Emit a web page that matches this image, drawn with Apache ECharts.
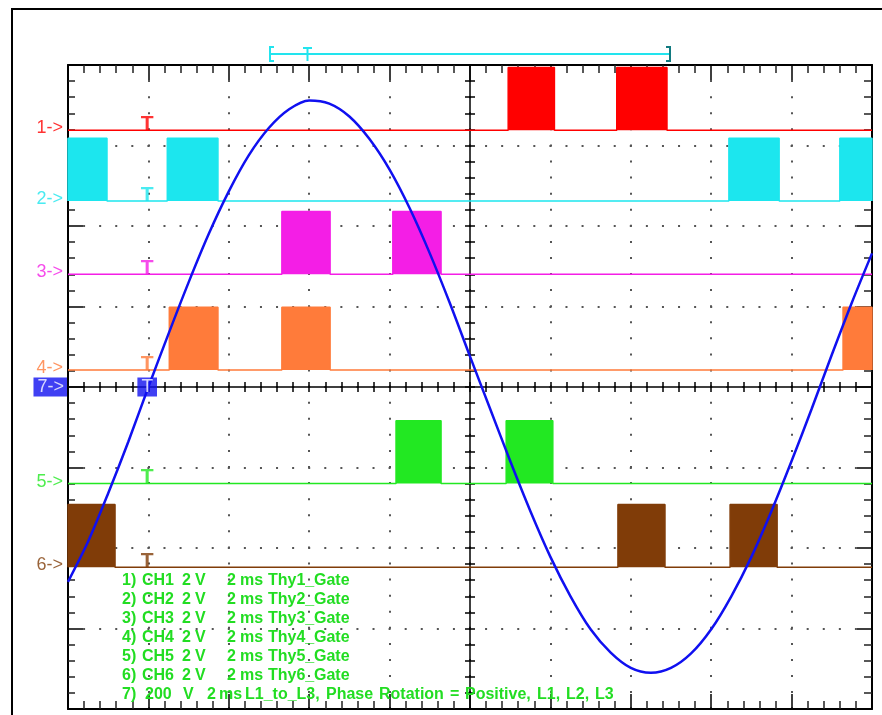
<!DOCTYPE html>
<html><head><meta charset="utf-8">
<script src="https://cdn.jsdelivr.net/npm/echarts@6/dist/echarts.min.js"></script>
<style>html,body{margin:0;padding:0;background:#fff}#c{width:882px;height:715px}</style>
</head><body><div id="c"></div><script>
// ---- data (time in ms, amplitude in screen divisions) ----
const timeMs = [0,0.5,1,1.5,2,2.5,3,3.5,4,4.5,5,5.5,6,6.5,7,7.5,8,8.5,9,9.5,10,10.5,11,11.5,12,12.5,13,13.5,14,14.5,15,15.5,16,16.5,17,17.5,18,18.5,19,19.5,20];
const ch7Div = [-2.42,-1.92,-1.32,-0.68,0.00,0.66,1.30,1.90,2.43,2.88,3.22,3.45,3.56,3.52,3.36,3.08,2.70,2.22,1.66,1.04,0.38,-0.27,-0.92,-1.54,-2.11,-2.60,-3.01,-3.30,-3.49,-3.55,-3.49,-3.31,-3.01,-2.60,-2.11,-1.54,-0.92,-0.27,0.40,1.05,1.66];
const ch1Pulses = [[10.95,12.10],[13.65,14.90]];
const ch2Pulses = [[0,0.97],[2.47,3.73],[16.44,17.69],[19.20,20]];
const ch3Pulses = [[5.32,6.52],[8.08,9.28]];
const ch4Pulses = [[2.52,3.73],[5.32,6.52],[19.28,20]];
const ch5Pulses = [[8.16,9.28],[10.90,12.06]];
const ch6Pulses = [[0,1.17],[13.68,14.85],[16.47,17.64]];
const channelNames = ['1->','2->','3->','4->','5->','6->'];
const channelBase = [3.19,2.31,1.40,0.21,-1.20,-2.24];
const pulseHeight = 0.78;
const triggerMs = 2;
const ch7Name = '7->';
const legendRows = [
  ['1)','CH1','2','V','2','ms','Thy1_','Gate'],
  ['2)','CH2','2','V','2','ms','Thy2_','Gate'],
  ['3)','CH3','2','V','2','ms','Thy3_','Gate'],
  ['4)','CH4','2','V','2','ms','Thy4_','Gate'],
  ['5)','CH5','2','V','2','ms','Thy5_','Gate'],
  ['6)','CH6','2','V','2','ms','Thy6_','Gate']
];
const legendRow7 = ['7)','200','V','2','ms','L1_to_L3,','Phase','Rotation','=','Positive,','L1,','L2,','L3'];

// ---- styling ----
const colors = ['#ff0000','#1ce6ee','#f41ee6','#ff7b3a','#22e822','#803c08'];
const blue = '#1010f0';
const legendGreen = '#22dd22';
const pulses = [ch1Pulses,ch2Pulses,ch3Pulses,ch4Pulses,ch5Pulses,ch6Pulses];
const G = {left:68, top:65, width:804, height:644};
const font = 'Liberation Sans, Arial, sans-serif';

function pulseData(list, base){
  const d = [[0, base]];
  list.forEach(([s,e]) => { d.push([s,base],[s,base+pulseHeight],[e,base+pulseHeight],[e,base]); });
  d.push([20, base]);
  return d;
}

const series = [];
pulses.forEach((p,i) => {
  series.push({
    type:'line', xAxisIndex:0, yAxisIndex:0, data: pulseData(p, channelBase[i]),
    showSymbol:false, symbol:'none', animation:false,
    lineStyle:{color:colors[i], width:1.5},
    areaStyle:{color:colors[i], opacity:1, origin:channelBase[i]}, z:3
  });
});
series.push({
  type:'line', xAxisIndex:0, yAxisIndex:0, data: timeMs.map((t,i)=>[t, ch7Div[i]]),
  showSymbol:false, symbol:'none', smooth:0.3, animation:false,
  lineStyle:{color:blue, width:2.5}, z:5
});
// channel labels "n->"
series.push({
  type:'scatter', xAxisIndex:0, yAxisIndex:0, symbolSize:0, animation:false, silent:true, z:6,
  data: channelNames.map((n,i)=>({value:[0, channelBase[i]], name:n,
    label:{show:true, position:'left', distance:5, offset:[0,-2], formatter:n, color:colors[i], fontSize:18, fontFamily:font}})).concat([
    {value:[0,0], name:ch7Name, label:{show:true, position:'left', distance:1, formatter:ch7Name, color:'#fff', fontSize:18, fontFamily:font,
      backgroundColor:blue, padding:[1,3,1,4], lineHeight:17}}])
});
// trigger "T" markers
series.push({
  type:'scatter', xAxisIndex:0, yAxisIndex:0, symbolSize:0, animation:false, silent:true, z:6,
  data: channelBase.map((b,i)=>({value:[triggerMs-0.03, b],
    label:{show:true, position:'inside', offset:[0,-6], formatter:'T', color:colors[i], fontSize:21, fontWeight:'bold', fontFamily:font}})).concat([
    {value:[triggerMs-0.03,0], label:{show:true, position:'inside', formatter:'T', color:'#fff', fontSize:19, fontFamily:font,
      backgroundColor:blue, padding:[1,4,1,4], lineHeight:17}}])
});

const dotLine = {show:true, lineStyle:{color:'#555', width:2, type:[2,14.08], dashOffset:1}};
const borderLine = {show:true, onZero:false, lineStyle:{color:'#000', width:2}};
const tickMain = {show:true, inside:true, length:15, lineStyle:{color:'#000', width:1.5}};
const tickMinor = {show:true, splitNumber:5, length:8, lineStyle:{color:'#222', width:1.5}};
const noLabel = {show:false};
const centerTick = {show:true, inside:false, length:5, lineStyle:{color:'#000', width:1.5}};

const option = {
  backgroundColor:'#fff',
  animation:false,
  grid:[
    {left:G.left, top:G.top, width:G.width, height:G.height, show:false},
    {left:G.left, top:G.top+G.height/2, width:G.width, height:0, show:false},
    {left:G.left+G.width/2, top:G.top, width:0, height:G.height, show:false}
  ],
  xAxis:[
    {gridIndex:0, type:'value', min:0, max:20, interval:2, position:'bottom', axisLine:borderLine, axisTick:tickMain, minorTick:tickMinor, axisLabel:noLabel, splitLine:dotLine},
    {gridIndex:0, type:'value', min:0, max:20, interval:2, position:'top', axisLine:borderLine, axisTick:tickMain, minorTick:tickMinor, axisLabel:noLabel, splitLine:{show:false}},
    {gridIndex:1, type:'value', min:0, max:20, interval:0.4, position:'bottom', axisLine:{show:true, onZero:false, lineStyle:{color:'#000', width:1.5}}, axisTick:centerTick, axisLabel:noLabel, splitLine:{show:false}},
    {gridIndex:1, type:'value', min:0, max:20, interval:0.4, position:'top', axisLine:{show:false}, axisTick:centerTick, axisLabel:noLabel, splitLine:{show:false}},
    {gridIndex:2, type:'value', min:0, max:1, show:false}
  ],
  yAxis:[
    {gridIndex:0, type:'value', min:-4, max:4, interval:1, position:'left', axisLine:borderLine, axisTick:tickMain, minorTick:{show:true, splitNumber:5, length:7, lineStyle:{color:'#222', width:1.5}}, axisLabel:noLabel, splitLine:dotLine},
    {gridIndex:0, type:'value', min:-4, max:4, interval:1, position:'right', axisLine:borderLine, axisTick:tickMain, minorTick:tickMinor, axisLabel:noLabel, splitLine:{show:false}},
    {gridIndex:1, type:'value', min:0, max:1, show:false},
    {gridIndex:2, type:'value', min:-4, max:4, interval:0.2, position:'left', axisLine:{show:true, onZero:false, lineStyle:{color:'#000', width:1.5}}, axisTick:centerTick, axisLabel:noLabel, splitLine:{show:false}},
    {gridIndex:2, type:'value', min:-4, max:4, interval:0.2, position:'right', axisLine:{show:false}, axisTick:centerTick, axisLabel:noLabel, splitLine:{show:false}}
  ],
  series: series
};

// ---- decorations: outer frame, zoom bracket, readout text ----
const cyan = '#22e4ee';
const graphic = [
  {type:'rect', shape:{x:12, y:9, width:900, height:720}, style:{fill:'none', stroke:'#000', lineWidth:2}, z:1, silent:true},
  {type:'line', shape:{x1:270, y1:54, x2:670, y2:54}, style:{stroke:cyan, lineWidth:2}, silent:true},
  {type:'polyline', shape:{points:[[274,47],[270,47],[270,61],[274,61]]}, style:{stroke:cyan, lineWidth:2, fill:'none'}, silent:true},
  {type:'polyline', shape:{points:[[666,47],[670,47],[670,61],[666,61]]}, style:{stroke:'#127a80', lineWidth:2, fill:'none'}, silent:true},
  {type:'polyline', shape:{points:[[303,48],[312,48]]}, style:{stroke:cyan, lineWidth:2}, silent:true},
  {type:'polyline', shape:{points:[[307.5,48],[307.5,61]]}, style:{stroke:cyan, lineWidth:2}, silent:true}
];
const legendFont = 'bold 16px ' + font;
const cols = [122,142,182,195,227,240,268,314];
legendRows.forEach((row,r) => {
  row.forEach((tok,c) => {
    graphic.push({type:'text', x:cols[c], y:581+r*18.9, z:20, silent:true,
      style:{text:tok, fill:legendGreen, font:legendFont, verticalAlign:'middle'}});
  });
});
const cols7 = [122,145,183,207,219,245,326,379,450,465,537,566,595];
legendRow7.forEach((tok,c) => {
  graphic.push({type:'text', x:cols7[c], y:581+6*18.9, z:20, silent:true,
    style:{text:tok, fill:legendGreen, font:legendFont, verticalAlign:'middle'}});
});
option.graphic = graphic;

const chart = echarts.init(document.getElementById('c'), null, {renderer:'canvas'});
chart.setOption(option);
</script></body></html>
